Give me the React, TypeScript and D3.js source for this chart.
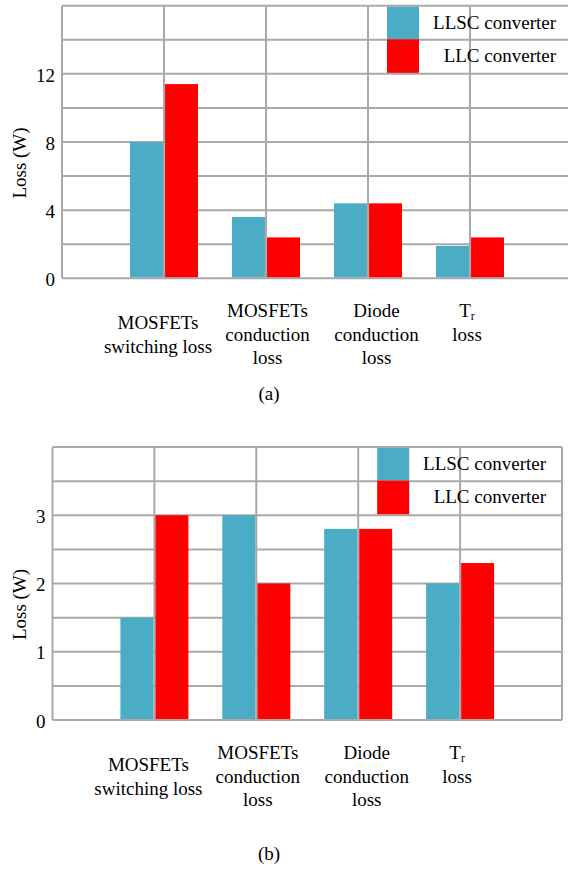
import * as d3 from "d3";

// categories and series
const categories = ["MOSFETs switching loss", "MOSFETs conduction loss", "Diode conduction loss", "Tr loss"];
const categoryLines = [
  ["MOSFETs", "switching loss"],
  ["MOSFETs", "conduction", "loss"],
  ["Diode", "conduction", "loss"],
  ["T_r", "loss"],
];
const seriesNames = ["LLSC converter", "LLC converter"];
const seriesColors = ["#4bacc6", "#ff0000"];

// (a) values, W
const llscLossA = [8.0, 3.6, 4.4, 1.9];
const llcLossA = [11.4, 2.4, 4.4, 2.4];
const tickLabelsA = [0, 4, 8, 12];

// (b) values, W
const llscLossB = [1.5, 3.0, 2.8, 2.0];
const llcLossB = [3.0, 2.0, 2.8, 2.3];
const tickLabelsB = [0, 1, 2, 3];

const captions = ["(a)", "(b)"];

const FONT = "Liberation Serif, Tinos, Times New Roman, DejaVu Serif, serif";
const GRID = "#a9a9a9";
const textStyle = { fontFamily: FONT, fontSize: "19px" };

const LineText = ({ text }) => {
  if (text.includes("_")) {
    const [base, sub] = text.split("_");
    return (
      <>
        {base}
        <tspan style={{ fontSize: "12px" }} dy={3}>{sub}</tspan>
      </>
    );
  }
  return <>{text}</>;
};

const Panel = ({ llsc, llc, max, step, ticks, caption, left, right, top, zero, captionGap }) => {
  const x = d3.scaleBand().domain(categories).range([left, right]).paddingInner(0).paddingOuter(0.5);
  const y = d3.scaleLinear().domain([0, max]).range([zero, top]);
  const sub = d3.scaleBand().domain(seriesNames).range([-34, 34]).paddingInner(0.06);
  const bw = x.bandwidth();
  const centers = categories.map((c) => x(c) + bw / 2);
  const vLines = [left, ...centers, right];
  const hLines = d3.range(0, max + step / 2, step);
  const values = [llsc, llc];

  // label layout
  const nudgeX = [-6, 1.5, 8.5, -3];
  const nudgeY = [12, 0, 0, 0];
  const lineH = 23.5;

  const legendX = centers[2] + 19;
  const legendTextX = right - 16;

  return (
    <g>
      {/* GRID */}
      {hLines.map((v) => (
        <line key={"h" + v} x1={left} x2={right} y1={y(v)} y2={y(v)} stroke={GRID} strokeWidth={2} />
      ))}
      {vLines.map((vx, i) => (
        <line key={"v" + i} x1={vx} x2={vx} y1={y(max)} y2={y(0)} stroke={GRID} strokeWidth={2} />
      ))}
      {/* BARS */}
      {values.map((vals, s) =>
        categories.map((c, i) => (
          <rect
            key={s + "-" + i}
            x={centers[i] + sub(seriesNames[s])}
            y={y(vals[i])}
            width={sub.bandwidth()}
            height={y(0) - 1 - y(vals[i])}
            fill={seriesColors[s]}
          />
        ))
      )}
      {/* LEGEND */}
      {seriesNames.map((n, s) => {
        const y0 = y(max - s * step) + (s === 0 ? 1 : -0.5);
        const y1 = y(max - (s + 1) * step) + (s === 0 ? -0.5 : -1);
        return (
          <g key={n}>
            <rect x={legendX} y={y0} width={32} height={y1 - y0} fill={seriesColors[s]} />
            <text x={legendTextX} y={(y0 + y1) / 2 + 6} textAnchor="end" style={textStyle}>
              {n}
            </text>
          </g>
        );
      })}
      {/* Y TICKS */}
      {ticks.map((t) => (
        <text key={t} x={left - 7} y={y(t) + 1} dy="0.35em" textAnchor="end" style={textStyle}>
          {t}
        </text>
      ))}
      <text
        transform={`translate(26, ${(y(0) + y(max)) / 2 + 21}) rotate(-90)`}
        textAnchor="middle"
        style={textStyle}
      >
        Loss (W)
      </text>
      {/* X LABELS */}
      {categoryLines.map((lines, i) =>
        lines.map((ln, k) => (
          <text
            key={i + "-" + k}
            x={centers[i] + nudgeX[i]}
            y={y(0) + 39 + nudgeY[i] + k * lineH}
            textAnchor="middle"
            style={textStyle}
          >
            <LineText text={ln} />
          </text>
        ))
      )}
      <text x={269} y={y(0) + captionGap} textAnchor="middle" style={textStyle}>
        {caption}
      </text>
    </g>
  );
};

export default function App() {
  return (
    <svg
      width={568}
      height={872}
      style={{ position: "absolute", left: 0, top: 0, background: "#fff" }}
    >
      <Panel
        llsc={llscLossA}
        llc={llcLossA}
        max={16}
        step={2}
        ticks={tickLabelsA}
        caption={captions[0]}
        left={62}
        right={572}
        top={5.7}
        zero={278.3}
        captionGap={122}
      />
      <Panel
        llsc={llscLossB}
        llc={llcLossB}
        max={4}
        step={0.5}
        ticks={tickLabelsB}
        caption={captions[1]}
        left={52.5}
        right={562}
        top={447}
        zero={720}
        captionGap={140}
      />
    </svg>
  );
}
